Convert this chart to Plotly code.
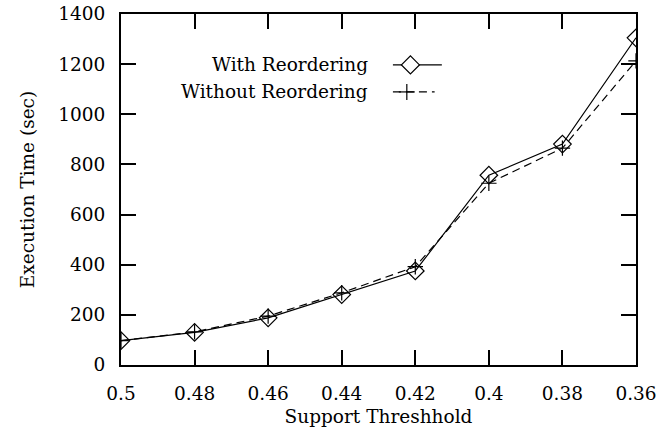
import plotly.graph_objects as go

# data
support = [0.5, 0.48, 0.46, 0.44, 0.42, 0.4, 0.38, 0.36]
with_reorder = [97, 130, 188, 281, 375, 757, 881, 1305]
without_reorder = [97, 132, 195, 288, 392, 725, 865, 1213]
series_names = ['With Reordering', 'Without Reordering']
x_ticks = [0.5, 0.48, 0.46, 0.44, 0.42, 0.4, 0.38, 0.36]
y_ticks = [0, 200, 400, 600, 800, 1000, 1200, 1400]

FONT = dict(family='DejaVu Serif, serif', size=18.5, color='black')
DASH = '8px,5px'

fig = go.Figure()
fig.add_trace(go.Scatter(
    x=support, y=with_reorder, name=series_names[0], mode='lines+markers',
    line=dict(color='black', width=1.2),
    marker=dict(symbol='diamond-open', size=13.5, color='black', line=dict(width=1.2)),
    showlegend=False))
fig.add_trace(go.Scatter(
    x=support, y=without_reorder, name=series_names[1], mode='lines+markers',
    line=dict(color='black', width=1.2, dash=DASH),
    marker=dict(symbol='cross-thin', size=11, color='black', line=dict(width=1.2, color='black')),
    showlegend=False))

# hand-made legend (gnuplot style: text on the left, key sample on the right)
PW, PH = 515.0, 351.0  # plot area in px


def px(d):
    return d / PW


def py(d):
    return d / PH


shapes = []
annotations = []
rows = [(0.855, 'diamond'), (0.778, 'plus')]
for name, (yy, kind) in zip(series_names, rows):
    annotations.append(dict(x=0.483, y=yy, xref='paper', yref='paper', text=name,
                            showarrow=False, xanchor='right', yanchor='middle', font=FONT))
    if kind == 'diamond':
        shapes.append(dict(type='line', xref='paper', yref='paper', x0=0.528, x1=0.623,
                           y0=yy, y1=yy, line=dict(color='black', width=1.2)))
        cx, r = 0.562, 9
        path = (f'M {cx - px(r)},{yy} L {cx},{yy + py(r)} L {cx + px(r)},{yy} '
                f'L {cx},{yy - py(r)} Z')
        shapes.append(dict(type='path', xref='paper', yref='paper', path=path,
                           fillcolor='white', line=dict(color='black', width=1.2)))
    else:
        shapes.append(dict(type='line', xref='paper', yref='paper', x0=0.528, x1=0.609,
                           y0=yy, y1=yy, line=dict(color='black', width=1.2, dash=DASH)))
        cx, r = 0.555, 8
        shapes.append(dict(type='line', xref='paper', yref='paper', x0=cx - px(r), x1=cx + px(r),
                           y0=yy, y1=yy, line=dict(color='black', width=1.2)))
        shapes.append(dict(type='line', xref='paper', yref='paper', x0=cx, x1=cx,
                           y0=yy - py(r), y1=yy + py(r), line=dict(color='black', width=1.2)))

axis_common = dict(showline=True, linecolor='black', linewidth=2, mirror='ticks',
                   ticks='inside', ticklen=15, tickwidth=2, tickcolor='black',
                   showgrid=False, zeroline=False, automargin=False,
                   ticklabeloverflow='allow', tickfont=FONT, title_font=FONT)

fig.update_layout(
    width=672, height=432,
    margin=dict(l=121, r=36, t=14, b=67),
    paper_bgcolor='white', plot_bgcolor='white',
    font=FONT,
    xaxis=dict(range=[0.5, 0.36], tickvals=x_ticks, ticktext=[f'{v:g}' for v in x_ticks],
               ticklabelstandoff=11,
               title=dict(text='Support Threshhold', standoff=7), **axis_common),
    yaxis=dict(range=[0, 1400], tickvals=y_ticks, ticklabelstandoff=10,
               title=dict(text='Execution Time (sec)', standoff=19), **axis_common),
    shapes=shapes,
    annotations=annotations,
)

# drop the page's default 8px body margin so the figure sits at the window corner
fig.write_html("out.html", config={'displayModeBar': False},
               post_script="document.body.style.margin='0';")
